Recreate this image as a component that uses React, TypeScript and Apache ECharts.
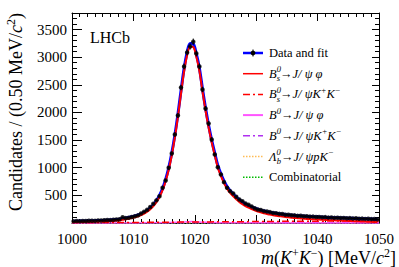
import React, { useEffect, useRef } from "react";
import * as echarts from "echarts";

// Binning of the histogram
const BIN_START = 1000;
const BIN_WIDTH = 0.5;

// Candidates per 0.5 MeV bin
const DATA_COUNTS = [
  30, 36, 33, 37, 35, 40, 41, 39, 46, 44,
  50, 53, 52, 60, 63, 68, 105, 88, 96, 108,
  122, 138, 172, 205, 240, 290, 348, 410, 485, 637,
  769, 999, 1258, 1602, 1946, 2452, 2833, 3086, 3195, 3280,
  3068, 2833, 2417, 2072, 1801, 1511, 1240, 1010, 878, 739,
  637, 576, 534, 474, 425, 395, 352, 330, 300, 268,
  245, 236, 215, 208, 197, 181, 178, 165, 163, 150,
  149, 140, 138, 129, 131, 122, 121, 115, 116, 109,
  110, 103, 106, 98, 100, 93, 96, 90, 92, 86,
  88, 81, 85, 78, 80, 74, 77, 70, 72, 66,
];

// Total fit at bin centres
const FIT_TOTAL = [
  32, 33, 34, 35, 37, 38, 40, 42, 44, 46,
  49, 52, 55, 59, 64, 69, 82, 90, 100, 112,
  127, 145, 167, 195, 230, 275, 332, 405, 500, 625,
  790, 1000, 1265, 1590, 1970, 2390, 2790, 3090, 3250, 3240,
  3060, 2800, 2430, 2080, 1770, 1500, 1265, 1040, 890, 760,
  660, 585, 525, 468, 420, 380, 346, 317, 292, 270,
  250, 233, 218, 205, 194, 184, 175, 167, 160, 153,
  147, 141, 136, 132, 128, 124, 120, 117, 114, 111,
  108, 105, 103, 100, 98, 96, 94, 92, 90, 88,
  86, 84, 82, 80, 78, 76, 74, 72, 70, 68,
];

// Bs0 -> J/psi phi component at bin centres
const BS_PHI = [
  17, 18, 18, 19, 20, 21, 22, 24, 25, 27,
  29, 32, 35, 38, 43, 48, 60, 68, 78, 89,
  104, 121, 143, 170, 205, 249, 305, 377, 471, 594,
  757, 965, 1227, 1549, 1926, 2342, 2738, 3036, 3195, 3185,
  3007, 2750, 2383, 2035, 1727, 1459, 1225, 1001, 852, 722,
  622, 547, 486, 429, 381, 340, 306, 277, 251, 229,
  209, 192, 176, 163, 152, 141, 132, 124, 116, 109,
  103, 97, 91, 87, 83, 79, 74, 71, 68, 65,
  62, 58, 56, 53, 50, 48, 46, 43, 41, 39,
  37, 34, 32, 30, 28, 25, 23, 21, 19, 17,
];

// Bs0 -> J/psi K+K- (S-wave)
const SWAVE_MASS = [1000, 1005, 1010, 1015, 1020, 1025, 1030, 1035, 1040, 1045, 1050];
const SWAVE = [5, 7, 10, 14, 18, 22, 26, 30, 33, 36, 38];

// B0 -> J/psi phi
const B0PHI_MASS = [1000, 1010, 1015, 1017.5, 1019.5, 1021.5, 1024, 1030, 1040, 1050];
const B0PHI = [0.5, 2, 6, 14, 25, 14, 6, 2.5, 1, 0.6];

// Small flat components
const OTHER_MASS = [1000, 1010, 1020, 1030, 1040, 1050];
const B0KK = [2, 2.5, 3, 3.5, 4, 4.5];
const LAMBDAB = [2, 3, 4, 4, 3, 2.5];
const COMB = [6, 6, 5.5, 5.5, 5, 5];

const X_MIN = 1000;
const X_MAX = 1050;
const Y_MAX = 3800;

const FONT = "Liberation Serif";

const binCentre = (i: number) => BIN_START + BIN_WIDTH * (i + 0.5);
const pairs = (xs: number[], ys: number[]) => ys.map((v, i) => [xs[i], v]);
const binned = (ys: number[]) => ys.map((v, i) => [binCentre(i), v]);

const RICH = {
  n: { fontFamily: FONT, fontSize: 12.5, lineHeight: 18, color: "#000" },
  i: { fontFamily: FONT, fontSize: 12.5, fontStyle: "italic", lineHeight: 18, color: "#000" },
  sp0: { fontFamily: FONT, fontSize: 8.5, fontStyle: "italic", lineHeight: 11, verticalAlign: "top", width: 0.1, color: "#000" },
  sb: { fontFamily: FONT, fontSize: 8.5, fontStyle: "italic", lineHeight: 11, verticalAlign: "bottom", color: "#000" },
  sp: { fontFamily: FONT, fontSize: 8.5, fontStyle: "italic", lineHeight: 11, verticalAlign: "top", color: "#000" },
};

const LEGEND = [
  { text: "{n|Data and fit}", color: "#0000ff", dash: null as number[] | null, width: 2.5, marker: true },
  { text: "{i|B}{sp0|0}{sb|s}{n|→}{i|J/ ψ φ}", color: "#ff0000", dash: null, width: 1.5, marker: false },
  { text: "{i|B}{sp0|0}{sb|s}{n|→}{i|J/ ψK}{sp|+}{i|K}{sp|−}", color: "#ff0000", dash: [7, 3, 2, 3], width: 1.5, marker: false },
  { text: "{i|B}{sp|0}{n|→}{i|J/ ψ φ}", color: "#ff55ff", dash: null, width: 2, marker: false },
  { text: "{i|B}{sp|0}{n|→}{i|J/ ψK}{sp|+}{i|K}{sp|−}", color: "#b030f0", dash: [7, 3, 2, 3], width: 1.5, marker: false },
  { text: "{i|Λ}{sp0|0}{sb|b}{n|→}{i|J/ ψpK}{sp|−}", color: "#ffbb55", dash: [1.5, 1.5], width: 1.5, marker: false },
  { text: "{n|Combinatorial}", color: "#00bb00", dash: [1.5, 1.5], width: 1.5, marker: false },
];

export default function App() {
  const ref = useRef<HTMLDivElement>(null);

  useEffect(() => {
    document.body.style.margin = "0";
    if (!ref.current) return;
    const chart = echarts.init(ref.current, null, { renderer: "svg" });

    const legendGraphics: any[] = [];
    const lx0 = 243, lx1 = 263, ltx = 269, ly0 = 53, ldy = 20.7;
    LEGEND.forEach((e, k) => {
      const y = ly0 + k * ldy;
      legendGraphics.push({
        type: "line",
        shape: { x1: lx0, y1: y, x2: lx1, y2: y },
        style: { stroke: e.color, lineWidth: e.width, lineDash: e.dash || undefined },
      });
      if (e.marker) {
        legendGraphics.push({
          type: "line",
          shape: { x1: (lx0 + lx1) / 2, y1: y - 3.5, x2: (lx0 + lx1) / 2, y2: y + 3.5 },
          style: { stroke: "#000", lineWidth: 1 },
        });
        legendGraphics.push({
          type: "circle",
          shape: { cx: (lx0 + lx1) / 2, cy: y, r: 2.4 },
          style: { fill: "#000" },
        });
      }
      legendGraphics.push({
        type: "text",
        x: ltx,
        y,
        style: { text: e.text, rich: RICH, align: "left", verticalAlign: "middle" },
      });
    });

    const axisCommon = {
      min: X_MIN,
      max: X_MAX,
      interval: 10,
      axisLine: { show: true, onZero: false, lineStyle: { color: "#000", width: 1 } },
      splitLine: { show: false },
    };

    const yCommon = {
      min: 0,
      max: Y_MAX,
      interval: 500,
      axisLine: { show: true, onZero: false, lineStyle: { color: "#000", width: 1 } },
      splitLine: { show: false },
    };

    const option: any = {
      animation: false,
      backgroundColor: "#fff",
      textStyle: { fontFamily: FONT },
      grid: { left: 72, right: 20, top: 13, bottom: 44, containLabel: false },
      xAxis: [
        {
          type: "value",
          position: "bottom",
          ...axisCommon,
          axisTick: { show: true, inside: true, length: 8, lineStyle: { color: "#000" } },
          minorTick: { show: true, splitNumber: 8, length: 4, lineStyle: { color: "#000" } },
          axisLabel: {
            show: true,
            margin: 8,
            fontFamily: FONT,
            fontSize: 15,
            color: "#000",
            formatter: (v: number) => String(v),
          },
        },
        {
          type: "value",
          position: "top",
          ...axisCommon,
          axisTick: { show: true, inside: true, length: 8, lineStyle: { color: "#000" } },
          minorTick: { show: true, splitNumber: 8, length: 4, lineStyle: { color: "#000" } },
          axisLabel: { show: false },
        },
      ],
      yAxis: [
        {
          type: "value",
          position: "left",
          ...yCommon,
          axisTick: { show: true, inside: true, length: 10, lineStyle: { color: "#000" } },
          minorTick: { show: true, splitNumber: 5, length: 5, lineStyle: { color: "#000" } },
          axisLabel: {
            show: true,
            margin: 5,
            fontFamily: FONT,
            fontSize: 15,
            color: "#000",
            formatter: (v: number) => (v > 0 && v % 500 === 0 ? String(v) : ""),
          },
        },
        {
          type: "value",
          position: "right",
          ...yCommon,
          axisTick: { show: true, inside: true, length: 7, lineStyle: { color: "#000" } },
          minorTick: { show: true, splitNumber: 5, length: 4, lineStyle: { color: "#000" } },
          axisLabel: { show: false },
        },
      ],
      graphic: [
        {
          type: "text",
          x: 90,
          y: 37,
          style: { text: "LHCb", fontFamily: FONT, fontSize: 16, fill: "#000", align: "left", verticalAlign: "middle" },
        },
        {
          type: "text",
          x: 16,
          y: 13,
          rotation: Math.PI / 2,
          style: {
            text: "{n|Candidates / (0.50 MeV/}{i|c}{s|2}{n|)}",
            align: "right",
            verticalAlign: "middle",
            rich: {
              n: { fontFamily: FONT, fontSize: 18, lineHeight: 22, color: "#000" },
              i: { fontFamily: FONT, fontSize: 18, fontStyle: "italic", lineHeight: 22, color: "#000" },
              s: { fontFamily: FONT, fontSize: 12, lineHeight: 14, verticalAlign: "top", color: "#000" },
            },
          },
        },
        {
          type: "text",
          x: 396,
          y: 258,
          style: {
            text: "{i|m}{n|(}{i|K}{s|+}{i|K}{s|−}{n|) [MeV/}{i|c}{s|2}{n|]}",
            align: "right",
            verticalAlign: "middle",
            rich: {
              n: { fontFamily: FONT, fontSize: 18, lineHeight: 22, color: "#000" },
              i: { fontFamily: FONT, fontSize: 18, fontStyle: "italic", lineHeight: 22, color: "#000" },
              s: { fontFamily: FONT, fontSize: 12, lineHeight: 13, verticalAlign: "top", color: "#000" },
            },
          },
        },
        ...legendGraphics,
      ],
      series: [
        {
          name: "Combinatorial",
          type: "line",
          data: pairs(OTHER_MASS, COMB),
          symbol: "none",
          lineStyle: { color: "#00bb00", width: 1.5, type: [1.5, 1.5] },
          z: 2,
        },
        {
          name: "Lambda_b",
          type: "line",
          data: pairs(OTHER_MASS, LAMBDAB),
          symbol: "none",
          lineStyle: { color: "#ffbb55", width: 1.5, type: [1.5, 1.5] },
          z: 2,
        },
        {
          name: "B0 KK",
          type: "line",
          data: pairs(OTHER_MASS, B0KK),
          symbol: "none",
          lineStyle: { color: "#b030f0", width: 1.5, type: [7, 3, 2, 3] },
          z: 2,
        },
        {
          name: "B0 phi",
          type: "line",
          data: pairs(B0PHI_MASS, B0PHI),
          smooth: 0.4,
          symbol: "none",
          lineStyle: { color: "#ff55ff", width: 1.5 },
          z: 2,
        },
        {
          name: "Bs KK",
          type: "line",
          data: pairs(SWAVE_MASS, SWAVE),
          smooth: 0.3,
          symbol: "none",
          lineStyle: { color: "#ff0000", width: 1.5, type: [7, 3, 2, 3] },
          z: 3,
        },
        {
          name: "Fit",
          type: "line",
          data: binned(FIT_TOTAL),
          smooth: 0.35,
          symbol: "none",
          lineStyle: { color: "#0000ff", width: 3 },
          z: 4,
        },
        {
          name: "Bs phi",
          type: "line",
          data: binned(BS_PHI),
          smooth: 0.35,
          symbol: "none",
          lineStyle: { color: "#ff0000", width: 2 },
          z: 5,
        },
        {
          name: "Errors",
          type: "custom",
          data: binned(DATA_COUNTS),
          z: 6,
          renderItem: (params: any, api: any) => {
            const x = api.value(0);
            const y = api.value(1);
            const e = Math.sqrt(y);
            const t = api.coord([x, y + e]);
            const b = api.coord([x, y - e]);
            const l = api.coord([x - BIN_WIDTH / 2, y]);
            const r = api.coord([x + BIN_WIDTH / 2, y]);
            return {
              type: "group",
              children: [
                { type: "line", shape: { x1: t[0], y1: t[1], x2: b[0], y2: b[1] }, style: { stroke: "#000", lineWidth: 1 } },
                { type: "line", shape: { x1: l[0], y1: l[1], x2: r[0], y2: r[1] }, style: { stroke: "#000", lineWidth: 1 } },
              ],
            };
          },
        },
        {
          name: "Data",
          type: "scatter",
          data: binned(DATA_COUNTS),
          symbol: "circle",
          symbolSize: 4.5,
          itemStyle: { color: "#000" },
          z: 7,
        },
      ],
    };

    chart.setOption(option);
    return () => chart.dispose();
  }, []);

  return <div ref={ref} style={{ width: 399, height: 267 }} />;
}
